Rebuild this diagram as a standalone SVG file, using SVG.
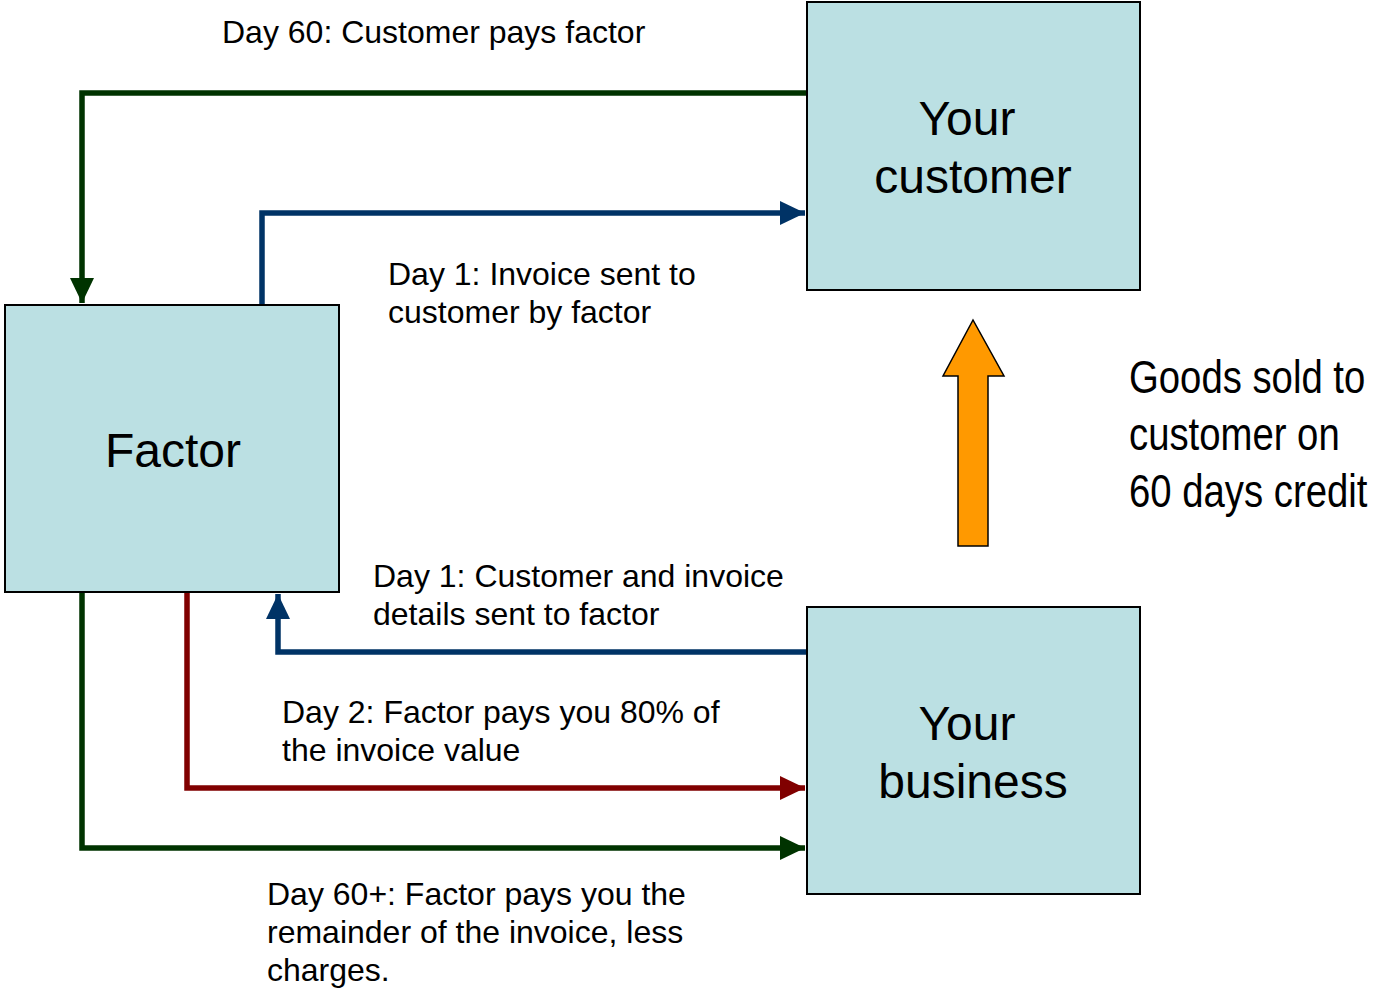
<svg xmlns="http://www.w3.org/2000/svg" width="1374" height="990" viewBox="0 0 1374 990">
<style>
.box{fill:#BBE0E3;stroke:#000;stroke-width:2}
.lbl{font-family:"Liberation Sans",Arial,sans-serif;font-size:48px;fill:#000;text-anchor:middle}
.t{font-family:"Liberation Sans",Arial,sans-serif;font-size:32px;fill:#000}
.n{font-family:"Liberation Sans",Arial,sans-serif;font-size:47px;fill:#000}
.c{fill:none;stroke-width:5.5;stroke-linejoin:miter}
</style>
<defs>
<marker id="hg" markerUnits="userSpaceOnUse" markerWidth="25" markerHeight="24" refX="25" refY="12" orient="auto"><path d="M0,0 L25,12 L0,24 z" fill="#003300"/></marker>
<marker id="hb" markerUnits="userSpaceOnUse" markerWidth="25" markerHeight="24" refX="25" refY="12" orient="auto"><path d="M0,0 L25,12 L0,24 z" fill="#003366"/></marker>
<marker id="hr" markerUnits="userSpaceOnUse" markerWidth="25" markerHeight="24" refX="25" refY="12" orient="auto"><path d="M0,0 L25,12 L0,24 z" fill="#800000"/></marker>
</defs>
<rect width="1374" height="990" fill="#fff"/>
<g id="connectors">
<path class="c" d="M807,93 H82 V303" stroke="#003300" marker-end="url(#hg)"/>
<path class="c" d="M262,305 V213 H805" stroke="#003366" marker-end="url(#hb)"/>
<path class="c" d="M807,652 H278 V594" stroke="#003366" marker-end="url(#hb)"/>
<path class="c" d="M187,592 V788 H805" stroke="#800000" marker-end="url(#hr)"/>
<path class="c" d="M82,592 V848 H805" stroke="#003300" marker-end="url(#hg)"/>
</g>
<g id="customer">
<rect class="box" x="807" y="2" width="333" height="288"/>
<text class="lbl" x="967" y="135">Your</text>
<text class="lbl" x="973" y="193">customer</text>
</g>
<g id="factor">
<rect class="box" x="5" y="305" width="334" height="287"/>
<text class="lbl" x="173" y="467">Factor</text>
</g>
<g id="business">
<rect class="box" x="807" y="607" width="333" height="287"/>
<text class="lbl" x="967" y="740">Your</text>
<text class="lbl" x="973" y="798">business</text>
</g>
<g id="goods-arrow">
<polygon points="958,546 988,546 988,376 1004,376 973,320 943,376 958,376" fill="#FF9900" stroke="#000" stroke-width="1.5"/>
</g>
<g id="labels">
<text class="t" x="222" y="43">Day 60: Customer pays factor</text>
<text class="t" x="388" y="285">Day 1: Invoice sent to</text>
<text class="t" x="388" y="323">customer by factor</text>
<text class="t" x="373" y="587">Day 1: Customer and invoice</text>
<text class="t" x="373" y="625">details sent to factor</text>
<text class="t" x="282" y="723">Day 2: Factor pays you 80% of</text>
<text class="t" x="282" y="761">the invoice value</text>
<text class="t" x="267" y="905">Day 60+: Factor pays you the</text>
<text class="t" x="267" y="943">remainder of the invoice, less</text>
<text class="t" x="267" y="981">charges.</text>
<g transform="translate(1129,0) scale(0.815,1)">
<text class="n" x="0" y="393">Goods sold to</text>
<text class="n" x="0" y="450">customer on</text>
<text class="n" x="0" y="507">60 days credit</text>
</g>
</g>
</svg>
